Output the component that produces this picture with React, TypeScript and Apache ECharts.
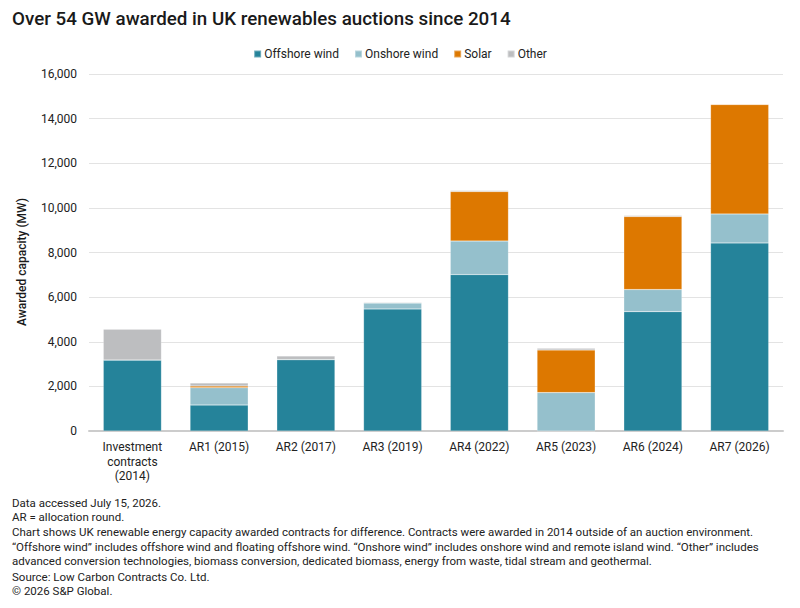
import React, { useEffect, useRef } from "react";
import * as echarts from "echarts";

// Awarded CfD capacity by allocation round, MW
const categories = [
  "Investment\ncontracts\n(2014)",
  "AR1 (2015)",
  "AR2 (2017)",
  "AR3 (2019)",
  "AR4 (2022)",
  "AR5 (2023)",
  "AR6 (2024)",
  "AR7 (2026)",
];
const offshoreWind = [3180, 1160, 3200, 5470, 7010, 0, 5350, 8430];
const onshoreWind = [0, 780, 0, 270, 1500, 1720, 990, 1300];
const solar = [0, 72, 0, 0, 2220, 1910, 3270, 4900];
const other = [1380, 140, 160, 30, 50, 76, 45, 30];

const seriesNames = ["Offshore wind", "Onshore wind", "Solar", "Other"];
const seriesColors = ["#25839A", "#95C0CC", "#DD7800", "#BDBEC0"];

const footnotes = [
  "Data accessed July 15, 2026.",
  "AR = allocation round.",
  "Chart shows UK renewable energy capacity awarded contracts for difference. Contracts were awarded in 2014 outside of an auction environment.",
  "\u201COffshore wind\u201D includes offshore wind and floating offshore wind. \u201COnshore wind\u201D includes onshore wind and remote island wind. \u201COther\u201D includes",
  "advanced conversion technologies, biomass conversion, dedicated biomass, energy from waste, tidal stream and geothermal.",
  "Source: Low Carbon Contracts Co. Ltd.",
  "\u00A9 2026 S&P Global.",
];
const footnoteY = [503, 517, 532, 547, 561, 577, 591];

const FONT = "Roboto, 'Noto Sans', sans-serif";

export default function App() {
  const ref = useRef<HTMLDivElement>(null);

  useEffect(() => {
    if (!ref.current) return;
    document.body.style.margin = "0";
    const chart = echarts.init(ref.current, undefined, { renderer: "svg" });
    const values = [offshoreWind, onshoreWind, solar, other];

    chart.setOption({
      animation: false,
      backgroundColor: "#ffffff",
      textStyle: { fontFamily: FONT },
      title: {
        text: "Over 54 GW awarded in UK renewables auctions since 2014",
        left: 12,
        top: 9,
        padding: 0,
        textStyle: {
          fontFamily: FONT,
          fontSize: 18.8,
          fontWeight: 500,
          color: "#1a1a1a",
        },
      },
      legend: {
        data: seriesNames,
        top: 43,
        left: "center",
        itemWidth: 7,
        itemHeight: 7,
        itemGap: 15,
        icon: "rect",
        textStyle: { fontFamily: FONT, fontSize: 12, color: "#222", padding: [0, 0, 0, -2] },
      },
      grid: { left: 89, right: 17, top: 74, bottom: 177, containLabel: false },
      xAxis: {
        type: "category",
        data: categories,
        axisLine: { lineStyle: { color: "#cccccc", width: 2 } },
        axisTick: { show: false },
        axisLabel: {
          fontFamily: FONT,
          fontSize: 12,
          color: "#222",
          lineHeight: 14.5,
          margin: 9,
          interval: 0,
        },
      },
      yAxis: {
        type: "value",
        min: 0,
        max: 16000,
        interval: 2000,
        axisLine: { show: false },
        axisTick: { show: false },
        splitLine: { lineStyle: { color: "#e3e3e3", width: 1 } },
        axisLabel: {
          fontFamily: FONT,
          fontSize: 12,
          color: "#222",
          margin: 12,
          formatter: (v: number) => v.toLocaleString("en-US"),
        },
      },
      series: seriesNames.map((name, i) => ({
        name,
        type: "bar",
        stack: "total",
        data: values[i],
        barCategoryGap: "33%",
        itemStyle: { color: seriesColors[i], borderColor: "rgba(255,255,255,0.35)", borderWidth: 0.5 },
        emphasis: { disabled: true },
      })),
      graphic: [
        {
          type: "text",
          x: 22,
          y: 262,
          rotation: Math.PI / 2,
          style: {
            text: "Awarded capacity (MW)",
            fontFamily: FONT,
            fontSize: 12,
            fontWeight: 500,
            fill: "#1a1a1a",
            textAlign: "center",
            textVerticalAlign: "middle",
          },
        },
        ...footnotes.map((t, i) => ({
          type: "text",
          x: 12,
          y: footnoteY[i],
          style: {
            text: t,
            fontFamily: FONT,
            fontSize: 11.5,
            fill: "#222",
            textAlign: "left",
            textVerticalAlign: "middle",
          },
        })),
      ],
    });

    return () => chart.dispose();
  }, []);

  return <div ref={ref} style={{ width: 800, height: 608 }} />;
}
